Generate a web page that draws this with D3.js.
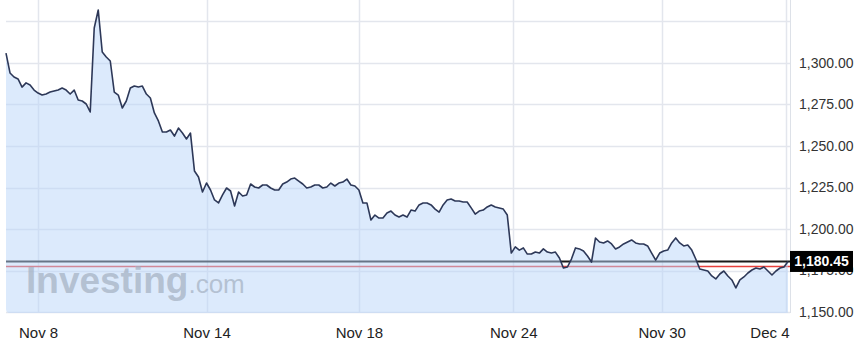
<!DOCTYPE html>
<html>
<head>
<meta charset="utf-8">
<script src="https://cdn.jsdelivr.net/npm/d3@7"></script>
<style>
  body { margin: 0; background: #fff; }
  svg { display: block; font-family: Arial, "Liberation Sans", sans-serif; }
</style>
</head>
<body>
<div id="chart"></div>
<script>
// gold price, one point per ~4px of the original chart
var prices = [
    1306.0, 1294.0, 1291.6, 1290.4, 1285.5, 1288.0, 1286.7, 1283.7, 1281.9, 1280.7,
    1281.3, 1282.5, 1283.1, 1283.7, 1284.9, 1283.7, 1281.3, 1283.7, 1277.7, 1277.1,
    1275.3, 1270.5, 1321.1, 1331.9, 1306.6, 1303.6, 1301.2, 1282.5, 1280.7, 1272.9,
    1277.1, 1284.9, 1286.1, 1285.5, 1286.1, 1281.3, 1278.9, 1269.9, 1265.1, 1258.4,
    1258.4, 1259.6, 1256.0, 1260.8, 1257.8, 1254.2, 1257.8, 1234.9, 1231.3, 1222.3,
    1227.7, 1223.5, 1217.5, 1215.7, 1220.5, 1224.7, 1222.9, 1213.9, 1222.3, 1219.9,
    1220.5, 1227.1, 1225.3, 1224.7, 1226.5, 1226.5, 1224.7, 1223.5, 1223.5, 1227.1,
    1228.3, 1230.1, 1230.7, 1228.9, 1227.1, 1224.7, 1225.3, 1226.5, 1226.5, 1224.7,
    1225.3, 1227.7, 1225.9, 1227.7, 1228.3, 1230.1, 1226.5, 1225.9, 1223.5, 1215.7,
    1215.7, 1205.4, 1208.4, 1206.6, 1206.6, 1209.6, 1210.8, 1208.4, 1207.2, 1208.4,
    1207.2, 1211.4, 1210.8, 1214.5, 1215.7, 1215.7, 1214.5, 1212.0, 1210.2, 1214.5,
    1217.5, 1218.1, 1216.9, 1216.9, 1216.3, 1216.3, 1212.7, 1209.0, 1210.8, 1211.4,
    1213.3, 1214.5, 1213.3, 1212.7, 1212.0, 1208.4, 1185.5, 1189.2, 1187.3, 1188.6,
    1184.9, 1184.9, 1186.1, 1185.5, 1188.0, 1186.1, 1185.5, 1186.1, 1182.5, 1176.5,
    1177.1, 1181.9, 1188.6, 1188.0, 1186.7, 1183.7, 1180.1, 1194.6, 1192.2, 1191.6,
    1192.8, 1191.0, 1188.0, 1189.2, 1191.0, 1192.2, 1193.4, 1191.6, 1191.0, 1191.0,
    1189.8, 1185.5, 1181.3, 1185.5, 1186.7, 1187.3, 1191.6, 1194.6, 1191.6, 1189.8,
    1190.4, 1187.3, 1181.9, 1175.9, 1175.3, 1174.7, 1171.7, 1169.9, 1172.9, 1174.7,
    1171.7, 1169.3, 1164.5, 1169.3, 1171.1, 1173.5, 1175.3, 1176.5, 1175.9, 1177.1,
    1174.7, 1172.3, 1174.7, 1176.5, 1177.1, 1180.45
];
var dateTicks = [8, 50, 88, 126.5, 163.5, 194.5];
var dateLabels = ["Nov 8", "Nov 14", "Nov 18", "Nov 24", "Nov 30", "Dec 4"];
var gridValues = [1150, 1175, 1200, 1225, 1250, 1275, 1300, 1325];
var priceLabels = [1150, 1175, 1200, 1225, 1250, 1275, 1300];
var lastPrice = 1180.45;
var prevClose = 1177.4;

var width = 860;
var height = 344;
var plotLeft = 6;
var plotRight = 790;
var plotBottom = 313;

var x = d3.scaleLinear().domain([0, prices.length - 1]).range([6, 788]);
var y = d3.scaleLinear().domain([1150, 1300]).range([312, 63]);

var svg = d3.select("#chart")
            .append("svg")
            .attr("width", width)
            .attr("height", height);

svg.append("clipPath")
    .attr("id", "plotClip")
    .append("rect")
    .attr("x", plotLeft)
    .attr("y", -10)
    .attr("width", plotRight - plotLeft)
    .attr("height", plotBottom + 10)
    .attr("rx", 4);

// Grid
svg.selectAll(".hgrid")
    .data(gridValues)
    .enter()
    .append("line")
    .attr("class", "hgrid")
    .attr("x1", plotLeft)
    .attr("x2", plotRight)
    .attr("y1", d => Math.round(y(d)) + 0.5)
    .attr("y2", d => Math.round(y(d)) + 0.5)
    .attr("stroke", "#e3e6ed")
    .attr("stroke-width", 1.5);

svg.selectAll(".vgrid")
    .data(dateTicks)
    .enter()
    .append("line")
    .attr("class", "vgrid")
    .attr("x1", d => Math.round(x(d)) + 0.5)
    .attr("x2", d => Math.round(x(d)) + 0.5)
    .attr("y1", 0)
    .attr("y2", plotBottom)
    .attr("stroke", "#e3e6ed")
    .attr("stroke-width", 1.5);

// Last price and previous close lines (under the fill)
svg.append("line")
    .attr("x1", plotLeft)
    .attr("x2", plotRight)
    .attr("y1", y(prevClose))
    .attr("y2", y(prevClose))
    .attr("stroke", "#e8403c")
    .attr("stroke-width", 1.5);

svg.append("line")
    .attr("x1", plotLeft)
    .attr("x2", plotRight)
    .attr("y1", y(lastPrice))
    .attr("y2", y(lastPrice))
    .attr("stroke", "#1a1a1a")
    .attr("stroke-width", 2);

// Area and line
var area = d3.area()
            .x((d, i) => x(i))
            .y0(plotBottom)
            .y1(d => y(d));

var line = d3.line()
            .x((d, i) => x(i))
            .y(d => y(d));

svg.append("path")
    .datum(prices)
    .attr("d", area)
    .attr("clip-path", "url(#plotClip)")
    .attr("fill", "rgb(183,212,249)")
    .attr("fill-opacity", 0.49);

svg.append("path")
    .datum(prices)
    .attr("d", line)
    .attr("fill", "none")
    .attr("stroke", "#2d3858")
    .attr("stroke-width", 1.6)
    .attr("stroke-linejoin", "round");

// Watermark
var mark = svg.append("text")
            .attr("x", 26)
            .attr("y", 293)
            .attr("fill", "#a3afc0")
            .attr("fill-opacity", 0.7);
mark.append("tspan")
    .text("Investing")
    .style("font-size", "37px")
    .style("font-weight", "bold");
mark.append("tspan")
    .text(".com")
    .style("font-size", "26px");

// Right border
svg.append("line")
    .attr("x1", plotRight + 0.5)
    .attr("x2", plotRight + 0.5)
    .attr("y1", 0)
    .attr("y2", plotBottom)
    .attr("stroke", "#dde1e8")
    .attr("stroke-width", 1);

// Price axis
var yAxis = d3.axisRight(y)
            .tickValues(priceLabels)
            .tickFormat(d3.format(",.2f"))
            .tickSize(0)
            .tickPadding(9);

var yg = svg.append("g")
    .attr("transform", "translate(" + plotRight + ",0)")
    .call(yAxis);
yg.select(".domain").remove();
yg.selectAll("text")
    .style("font-size", "14px")
    .attr("fill", "#333");

// Date axis
var xAxis = d3.axisBottom(x)
            .tickValues(dateTicks)
            .tickFormat((d, i) => dateLabels[i])
            .tickSize(0)
            .tickPadding(14);

var xg = svg.append("g")
    .attr("transform", "translate(0," + plotBottom + ")")
    .call(xAxis);
xg.select(".domain").remove();
xg.selectAll("text")
    .style("font-size", "15px")
    .attr("fill", "#222");
xg.selectAll("text")
    .filter((d, i) => i === dateTicks.length - 1)
    .attr("text-anchor", "end")
    .attr("dx", "3px");

// Last price box
svg.append("rect")
    .attr("x", plotRight)
    .attr("y", y(lastPrice) - 10.5)
    .attr("width", 63)
    .attr("height", 21)
    .attr("fill", "#000");

svg.append("text")
    .text(d3.format(",.2f")(lastPrice))
    .attr("x", plotRight + 31.5)
    .attr("y", y(lastPrice) + 5)
    .attr("text-anchor", "middle")
    .style("font-size", "14px")
    .style("font-weight", "bold")
    .attr("fill", "#fff");
</script>
</body>
</html>
